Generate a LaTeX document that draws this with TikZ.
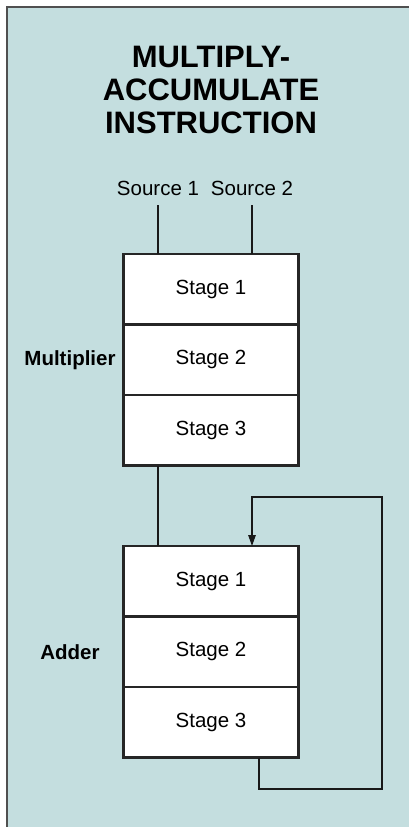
\documentclass[tikz,border=0pt]{standalone}
\usepackage{fontspec}
\setmainfont{Liberation Sans}
\usetikzlibrary{arrows.meta,calc}
\definecolor{bgteal}{RGB}{196,222,223}
\definecolor{framegray}{RGB}{80,80,80}
\tikzset{
  stagebox/.style={draw=black!85, fill=white, line width=2.2pt, minimum width=175pt, minimum height=70.5pt, inner sep=0pt, outer sep=0pt, font=\fontsize{20.5}{24}\selectfont},
  unitlabel/.style={font=\fontsize{20.5}{24}\selectfont\bfseries},
  srclabel/.style={font=\fontsize{20.5}{24}\selectfont, inner sep=10pt, outer sep=0pt, anchor=base},
  wire/.style={draw=black!90, line width=1.3pt},
}
\begin{document}
\begin{tikzpicture}[x=1pt,y=-1pt]
\useasboundingbox (0,0) rectangle (409,827);
\fill[white] (0,0) rectangle (409,827);
\fill[bgteal] (7,7) rectangle (409,827);
\draw[framegray, line width=1.5pt] (7,827) -- (7,7) -- (409,7);

\node[font=\fontsize{31}{33}\selectfont\bfseries, align=center, anchor=north, inner sep=0pt] (title) at (211,46) {MULTIPLY-\\ACCUMULATE\\INSTRUCTION};

\node[srclabel] (src1) at (158,195) {Source 1};
\node[srclabel] (src2) at (252,195) {Source 2};

\node[stagebox] (m1) at (211,289.25) {Stage 1};
\node[stagebox] (m2) at (211,359.75) {Stage 2};
\node[stagebox] (m3) at (211,430.25) {Stage 3};

\node[stagebox] (a1) at (211,581.25) {Stage 1};
\node[stagebox] (a2) at (211,651.75) {Stage 2};
\node[stagebox] (a3) at (211,722.25) {Stage 3};

\node[unitlabel] (mlab) at (70,360) {Multiplier};
\node[unitlabel] (alab) at (70,652) {Adder};

\draw[wire] (src1.south) -- (src1.south |- m1.north);
\draw[wire] (src2.south) -- (src2.south |- m1.north);
\draw[wire] (m3.south -| src1.south) -- (a1.north -| src1.south);

\coordinate (fb1) at (259,789);
\coordinate (fb2) at (382,789);
\coordinate (fb3) at (382,497);
\coordinate (fb4) at (252,497);
\draw[wire, -{Stealth[length=11pt,width=7.5pt,inset=0pt]}] (a3.south -| fb1) -- (fb1) -- (fb2) -- (fb3) -- (fb4) -- (a1.north -| fb4);
\end{tikzpicture}
\end{document}
